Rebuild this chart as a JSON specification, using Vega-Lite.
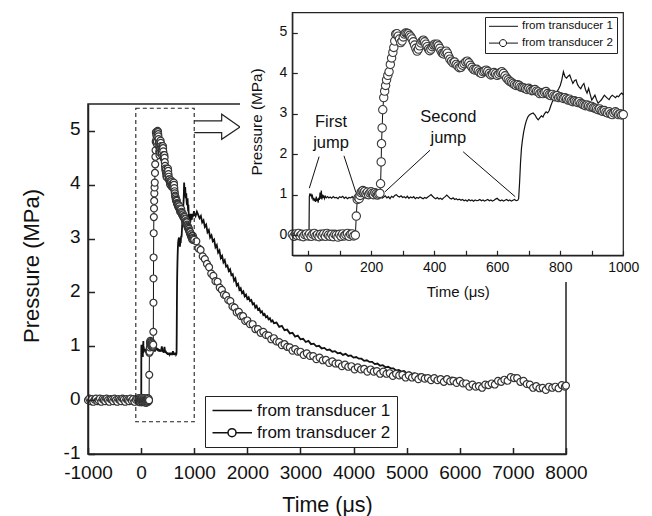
{
"$schema": "https://vega.github.io/schema/vega-lite/v6.json",
"width": 478, "height": 350,
"autosize": {"type": "none"},
"padding": {"left": 88, "top": 104, "right": 86, "bottom": 62},
"background": "white",
"config": {
  "font": "Liberation Sans",
  "view": {"stroke": "#222", "strokeWidth": 1.5},
  "axis": {"grid": false, "labelOverlap": false, "labelFlush": false, "domainColor": "#222", "tickColor": "#222", "labelColor": "#111", "titleColor": "#111", "titleFontWeight": "normal", "labelFont": "Liberation Sans", "titleFont": "Liberation Sans"},
  "legend": {"labelFont": "Liberation Sans", "labelColor": "#111", "labelLimit": 0}
},
"datasets": {
  "one": [{}],
  "leg": [{"s": "from transducer 1"}, {"s": "from transducer 2"}],
  "arrow": [{"ax": 1000, "ay": 5.186, "o": 1}, {"ax": 1517, "ay": 5.186, "o": 2}, {"ax": 1517, "ay": 5.31, "o": 3}, {"ax": 1862, "ay": 5.075, "o": 4}, {"ax": 1517, "ay": 4.845, "o": 5}, {"ax": 1517, "ay": 4.97, "o": 6}, {"ax": 1000, "ay": 4.97, "o": 7}],
  "notes": [{"x1": 35, "y1": 1.94, "x2": 4, "y2": 1.16}, {"x1": 114, "y1": 1.96, "x2": 152, "y2": 1.05}, {"x1": 387, "y1": 2.1, "x2": 244, "y2": 1.07}, {"x1": 492, "y1": 2.06, "x2": 657, "y2": 0.95}],
  "labels": [{"tx": 73, "ty": 2.8, "label": "First\njump"}, {"tx": 445, "ty": 2.93, "label": "Second\njump"}],
  "tr1": [
{"t":-1000,"p":0.01},{"t":-950,"p":-0.02},{"t":-900,"p":0.02},{"t":-850,"p":-0.01},{"t":-800,"p":0.01},{"t":-750,"p":-0.02},{"t":-700,"p":0.02},{"t":-650,"p":0.0},{"t":-600,"p":-0.02},{"t":-550,"p":0.02},{"t":-500,"p":0.0},{"t":-450,"p":-0.01},{"t":-400,"p":0.02},{"t":-350,"p":-0.02},{"t":-300,"p":0.01},{"t":-250,"p":-0.01},{"t":-200,"p":0.02},{"t":-150,"p":-0.02},{"t":-100,"p":0.01},{"t":-50,"p":0.0},{"t":-40,"p":0.02},{"t":-30,"p":-0.01},{"t":-20,"p":0.01},{"t":-10,"p":-0.02},{"t":0,"p":0.0},{"t":3,"p":0.02},
{"t":4,"p":0.95},{"t":6,"p":1.03},{"t":8,"p":0.98},{"t":10,"p":1.0},{"t":12,"p":0.93},{"t":14,"p":0.97},{"t":16,"p":0.86},{"t":18,"p":0.92},{"t":20,"p":0.84},{"t":22,"p":0.9},{"t":24,"p":0.82},{"t":26,"p":0.95},{"t":28,"p":0.85},{"t":30,"p":0.9},{"t":32,"p":0.8},{"t":34,"p":0.93},{"t":36,"p":0.87},{"t":38,"p":1.05},{"t":40,"p":0.9},{"t":42,"p":1.1},{"t":44,"p":0.88},{"t":46,"p":1.0},{"t":48,"p":0.92},{"t":50,"p":0.98},{"t":52,"p":0.9},{"t":55,"p":0.96},{"t":58,"p":0.92},{"t":62,"p":0.95},{"t":66,"p":0.92},{"t":70,"p":0.94},{"t":75,"p":0.91},{"t":80,"p":0.95},{"t":85,"p":0.92},{"t":90,"p":0.93},{"t":95,"p":0.9},{"t":100,"p":0.95},{"t":105,"p":0.93},{"t":110,"p":0.96},{"t":115,"p":0.91},{"t":120,"p":0.94},{"t":125,"p":0.9},{"t":130,"p":0.93},{"t":135,"p":0.92},{"t":140,"p":0.95},{"t":145,"p":0.9},{"t":150,"p":0.93},{"t":155,"p":0.88},{"t":160,"p":0.91},{"t":165,"p":0.87},{"t":170,"p":0.92},{"t":175,"p":0.89},{"t":180,"p":0.94},{"t":185,"p":0.91},{"t":190,"p":0.96},{"t":195,"p":0.92},{"t":200,"p":0.95},{"t":205,"p":0.91},{"t":210,"p":0.96},{"t":215,"p":0.93},{"t":220,"p":0.97},{"t":225,"p":0.92},{"t":230,"p":0.95},{"t":235,"p":0.91},{"t":240,"p":0.94},{"t":245,"p":0.97},{"t":250,"p":0.92},{"t":255,"p":0.95},{"t":260,"p":0.9},{"t":265,"p":0.96},{"t":270,"p":0.93},{"t":275,"p":0.98},{"t":280,"p":1.0},{"t":285,"p":0.96},{"t":290,"p":0.94},{"t":295,"p":0.97},{"t":300,"p":0.93},{"t":305,"p":0.95},{"t":310,"p":0.92},{"t":315,"p":0.96},{"t":320,"p":0.91},{"t":325,"p":0.94},{"t":330,"p":0.92},{"t":335,"p":0.95},{"t":340,"p":0.9},{"t":345,"p":0.93},{"t":350,"p":0.91},{"t":355,"p":0.94},{"t":360,"p":0.92},{"t":365,"p":0.9},{"t":370,"p":0.93},{"t":375,"p":0.91},{"t":380,"p":0.94},{"t":385,"p":0.97},{"t":390,"p":1.0},{"t":395,"p":0.96},{"t":400,"p":0.92},{"t":405,"p":0.9},{"t":410,"p":0.93},{"t":415,"p":0.89},{"t":420,"p":0.91},{"t":425,"p":0.88},{"t":430,"p":0.92},{"t":435,"p":0.95},{"t":440,"p":0.99},{"t":445,"p":0.95},{"t":450,"p":0.91},{"t":455,"p":0.89},{"t":460,"p":0.92},{"t":465,"p":0.88},{"t":470,"p":0.9},{"t":475,"p":0.87},{"t":480,"p":0.89},{"t":485,"p":0.86},{"t":490,"p":0.88},{"t":495,"p":0.85},{"t":500,"p":0.87},{"t":505,"p":0.84},{"t":510,"p":0.88},{"t":515,"p":0.85},{"t":520,"p":0.87},{"t":525,"p":0.84},{"t":530,"p":0.87},{"t":535,"p":0.85},{"t":540,"p":0.86},{"t":545,"p":0.88},{"t":550,"p":0.85},{"t":555,"p":0.87},{"t":560,"p":0.84},{"t":565,"p":0.86},{"t":570,"p":0.88},{"t":575,"p":0.85},{"t":580,"p":0.87},{"t":585,"p":0.84},{"t":590,"p":0.86},{"t":595,"p":0.89},{"t":600,"p":0.91},{"t":605,"p":0.87},{"t":610,"p":0.85},{"t":615,"p":0.87},{"t":620,"p":0.84},{"t":625,"p":0.86},{"t":630,"p":0.88},{"t":635,"p":0.85},{"t":640,"p":0.87},{"t":645,"p":0.84},{"t":650,"p":0.86},{"t":655,"p":0.88},{"t":660,"p":0.85},{"t":665,"p":0.86},{"t":668,"p":0.9},{"t":671,"p":1.3},{"t":674,"p":1.8},{"t":677,"p":2.15},{"t":680,"p":2.35},{"t":684,"p":2.55},{"t":688,"p":2.7},{"t":692,"p":2.82},{"t":697,"p":2.92},{"t":702,"p":2.97},{"t":708,"p":3.0},{"t":714,"p":3.02},{"t":720,"p":2.97},{"t":725,"p":2.9},{"t":730,"p":2.85},{"t":735,"p":2.9},{"t":740,"p":2.95},{"t":745,"p":2.92},{"t":750,"p":3.0},{"t":755,"p":3.05},{"t":760,"p":3.02},{"t":765,"p":3.08},{"t":770,"p":3.2},{"t":775,"p":3.3},{"t":780,"p":3.38},{"t":785,"p":3.45},{"t":790,"p":3.55},{"t":795,"p":3.62},{"t":800,"p":3.7},{"t":805,"p":3.84},{"t":810,"p":4.04},{"t":815,"p":3.92},{"t":820,"p":3.88},{"t":825,"p":3.93},{"t":830,"p":3.96},{"t":835,"p":3.85},{"t":840,"p":3.75},{"t":845,"p":3.82},{"t":850,"p":3.84},{"t":855,"p":3.72},{"t":860,"p":3.66},{"t":865,"p":3.62},{"t":870,"p":3.7},{"t":875,"p":3.75},{"t":880,"p":3.6},{"t":885,"p":3.51},{"t":890,"p":3.63},{"t":895,"p":3.48},{"t":900,"p":3.34},{"t":905,"p":3.4},{"t":910,"p":3.46},{"t":915,"p":3.35},{"t":920,"p":3.26},{"t":925,"p":3.3},{"t":930,"p":3.34},{"t":935,"p":3.4},{"t":940,"p":3.46},{"t":945,"p":3.42},{"t":950,"p":3.38},{"t":955,"p":3.35},{"t":960,"p":3.42},{"t":965,"p":3.46},{"t":970,"p":3.43},{"t":975,"p":3.4},{"t":980,"p":3.44},{"t":985,"p":3.42},{"t":990,"p":3.48},{"t":995,"p":3.51},{"t":1000,"p":3.47},
{"t":1025,"p":3.42},{"t":1050,"p":3.5},{"t":1075,"p":3.44},{"t":1100,"p":3.38},{"t":1125,"p":3.42},{"t":1150,"p":3.3},{"t":1175,"p":3.34},{"t":1200,"p":3.22},{"t":1225,"p":3.26},{"t":1250,"p":3.12},{"t":1275,"p":3.16},{"t":1300,"p":3.02},{"t":1325,"p":3.06},{"t":1350,"p":2.95},{"t":1375,"p":2.98},{"t":1400,"p":2.84},{"t":1425,"p":2.88},{"t":1450,"p":2.74},{"t":1475,"p":2.78},{"t":1500,"p":2.64},{"t":1525,"p":2.68},{"t":1550,"p":2.56},{"t":1575,"p":2.6},{"t":1600,"p":2.48},{"t":1625,"p":2.5},{"t":1650,"p":2.4},{"t":1675,"p":2.43},{"t":1700,"p":2.32},{"t":1725,"p":2.34},{"t":1750,"p":2.22},{"t":1775,"p":2.26},{"t":1800,"p":2.13},{"t":1825,"p":2.16},{"t":1850,"p":2.05},{"t":1875,"p":2.08},{"t":1900,"p":1.99},{"t":1925,"p":2.02},{"t":1950,"p":1.93},{"t":1975,"p":1.96},{"t":2000,"p":1.88},{"t":2025,"p":1.91},{"t":2050,"p":1.84},{"t":2075,"p":1.86},{"t":2100,"p":1.78},{"t":2125,"p":1.8},{"t":2150,"p":1.72},{"t":2175,"p":1.75},{"t":2200,"p":1.68},{"t":2225,"p":1.7},{"t":2250,"p":1.63},{"t":2275,"p":1.65},{"t":2300,"p":1.58},{"t":2325,"p":1.6},{"t":2350,"p":1.54},{"t":2375,"p":1.56},{"t":2400,"p":1.5},{"t":2425,"p":1.52},{"t":2450,"p":1.46},{"t":2475,"p":1.48},{"t":2500,"p":1.43},{"t":2550,"p":1.44},{"t":2600,"p":1.36},{"t":2650,"p":1.38},{"t":2700,"p":1.3},{"t":2750,"p":1.31},{"t":2800,"p":1.24},{"t":2850,"p":1.25},{"t":2900,"p":1.18},{"t":2950,"p":1.2},{"t":3000,"p":1.13},{"t":3050,"p":1.14},{"t":3100,"p":1.08},{"t":3150,"p":1.1},{"t":3200,"p":1.04},{"t":3250,"p":1.05},{"t":3300,"p":1.0},{"t":3350,"p":1.01},{"t":3400,"p":0.96},{"t":3450,"p":0.97},{"t":3500,"p":0.93},{"t":3550,"p":0.94},{"t":3600,"p":0.9},{"t":3650,"p":0.91},{"t":3700,"p":0.87},{"t":3750,"p":0.88},
{"t":3800,"p":0.84},{"t":3850,"p":0.86},{"t":3900,"p":0.82},{"t":3950,"p":0.83},{"t":4000,"p":0.79},{"t":4050,"p":0.8},{"t":4100,"p":0.77},{"t":4150,"p":0.77},{"t":4200,"p":0.73},{"t":4250,"p":0.74},{"t":4300,"p":0.71},{"t":4350,"p":0.71},{"t":4400,"p":0.67},{"t":4450,"p":0.68},{"t":4500,"p":0.64},{"t":4550,"p":0.65},{"t":4600,"p":0.61},{"t":4650,"p":0.62},{"t":4700,"p":0.59},{"t":4750,"p":0.59},{"t":4800,"p":0.55},{"t":4850,"p":0.56},{"t":4900,"p":0.53},{"t":4950,"p":0.54},{"t":5000,"p":0.5},{"t":5050,"p":0.52},{"t":5100,"p":0.49},{"t":5150,"p":0.5},{"t":5200,"p":0.47},{"t":5250,"p":0.48},{"t":5300,"p":0.46},{"t":5350,"p":0.46},{"t":5400,"p":0.44},{"t":5450,"p":0.45},{"t":5500,"p":0.43},{"t":5550,"p":0.44},{"t":5600,"p":0.41},{"t":5650,"p":0.43},{"t":5700,"p":0.42},{"t":5750,"p":0.42},{"t":5800,"p":0.4},{"t":5850,"p":0.42},{"t":5900,"p":0.41},{"t":5950,"p":0.4},{"t":6000,"p":0.37},{"t":6050,"p":0.38},{"t":6100,"p":0.35},{"t":6150,"p":0.34},{"t":6200,"p":0.31},{"t":6250,"p":0.31},{"t":6300,"p":0.28},{"t":6350,"p":0.29},{"t":6400,"p":0.26},{"t":6450,"p":0.28},{"t":6500,"p":0.28},{"t":6550,"p":0.3},{"t":6600,"p":0.3},{"t":6650,"p":0.33},{"t":6700,"p":0.34},{"t":6750,"p":0.36},{"t":6800,"p":0.36},{"t":6850,"p":0.39},{"t":6900,"p":0.4},{"t":6950,"p":0.44},{"t":7000,"p":0.46},{"t":7050,"p":0.43},{"t":7100,"p":0.42},{"t":7150,"p":0.39},{"t":7200,"p":0.36},{"t":7250,"p":0.34},{"t":7300,"p":0.31},{"t":7350,"p":0.3},{"t":7400,"p":0.27},{"t":7450,"p":0.27},{"t":7500,"p":0.24},{"t":7550,"p":0.25},{"t":7600,"p":0.23},{"t":7650,"p":0.25},{"t":7700,"p":0.24},{"t":7750,"p":0.26},{"t":7800,"p":0.24},{"t":7850,"p":0.26},{"t":7900,"p":0.25},{"t":7950,"p":0.27},{"t":8000,"p":0.26}
  ],
  "tr2": [
{"t":-1000,"p":0.0},{"t":-975,"p":0.03},{"t":-950,"p":-0.02},{"t":-925,"p":0.02},{"t":-900,"p":-0.03},{"t":-875,"p":0.01},{"t":-850,"p":0.03},{"t":-825,"p":-0.02},{"t":-800,"p":0.0},{"t":-775,"p":0.03},{"t":-750,"p":-0.03},{"t":-725,"p":0.02},{"t":-700,"p":0.0},{"t":-675,"p":-0.02},{"t":-650,"p":0.03},{"t":-625,"p":0.0},{"t":-600,"p":-0.03},{"t":-575,"p":0.02},{"t":-550,"p":0.01},{"t":-525,"p":-0.02},{"t":-500,"p":0.03},{"t":-475,"p":0.0},{"t":-450,"p":-0.03},{"t":-425,"p":0.02},{"t":-400,"p":0.0},{"t":-375,"p":-0.02},{"t":-350,"p":0.03},{"t":-325,"p":0.01},{"t":-300,"p":-0.03},{"t":-275,"p":0.02},{"t":-250,"p":0.0},{"t":-225,"p":-0.02},{"t":-200,"p":0.03},{"t":-175,"p":-0.01},{"t":-150,"p":0.02},{"t":-125,"p":-0.03},{"t":-100,"p":0.01},{"t":-75,"p":0.03},
{"t":-50,"p":0.02},{"t":-45,"p":-0.03},{"t":-40,"p":0.03},{"t":-35,"p":-0.01},{"t":-30,"p":0.04},{"t":-25,"p":-0.02},{"t":-20,"p":0.02},{"t":-15,"p":-0.04},{"t":-10,"p":0.01},{"t":-5,"p":0.03},{"t":0,"p":-0.02},{"t":5,"p":0.03},{"t":10,"p":-0.03},{"t":15,"p":0.02},{"t":20,"p":0.04},{"t":25,"p":-0.02},{"t":30,"p":0.01},{"t":35,"p":-0.04},{"t":40,"p":0.02},{"t":45,"p":-0.02},{"t":50,"p":0.03},{"t":55,"p":-0.03},{"t":60,"p":0.04},{"t":65,"p":0.0},{"t":70,"p":-0.03},{"t":75,"p":0.02},{"t":80,"p":-0.04},{"t":85,"p":0.02},{"t":90,"p":0.0},{"t":95,"p":-0.05},{"t":100,"p":0.02},{"t":105,"p":-0.03},{"t":110,"p":0.03},{"t":115,"p":-0.02},{"t":120,"p":0.01},{"t":125,"p":0.04},{"t":130,"p":-0.03},{"t":135,"p":0.02},{"t":140,"p":0.03},{"t":145,"p":-0.02},{"t":150,"p":0.0},
{"t":153,"p":0.47},{"t":156,"p":0.88},{"t":159,"p":0.93},{"t":162,"p":0.9},{"t":165,"p":0.98},{"t":168,"p":1.05},{"t":171,"p":1.08},{"t":174,"p":1.1},{"t":177,"p":1.05},{"t":180,"p":1.08},{"t":184,"p":1.02},{"t":188,"p":1.06},{"t":192,"p":1.0},{"t":196,"p":1.04},{"t":200,"p":1.07},{"t":204,"p":1.03},{"t":208,"p":1.0},{"t":212,"p":1.05},{"t":216,"p":1.02},{"t":220,"p":0.99},{"t":224,"p":1.01},{"t":228,"p":1.03},{"t":230,"p":1.27},{"t":232,"p":1.81},{"t":233,"p":2.26},{"t":235,"p":2.65},{"t":237,"p":3.1},{"t":240,"p":3.4},{"t":243,"p":3.56},{"t":246,"p":3.7},{"t":249,"p":3.84},{"t":253,"p":3.95},{"t":257,"p":4.04},{"t":261,"p":4.22},{"t":265,"p":4.38},{"t":269,"p":4.52},{"t":272,"p":4.64},{"t":275,"p":4.8},{"t":278,"p":4.97},{"t":282,"p":4.98},{"t":286,"p":4.92},{"t":290,"p":4.85},{"t":294,"p":4.76},{"t":298,"p":4.8},{"t":302,"p":4.9},{"t":306,"p":4.97},{"t":310,"p":5.0},{"t":314,"p":4.99},{"t":318,"p":4.98},{"t":322,"p":4.94},{"t":326,"p":4.9},{"t":330,"p":4.85},{"t":334,"p":4.78},{"t":338,"p":4.7},{"t":342,"p":4.62},{"t":346,"p":4.55},{"t":350,"p":4.6},{"t":354,"p":4.68},{"t":358,"p":4.75},{"t":362,"p":4.8},{"t":366,"p":4.82},{"t":370,"p":4.78},{"t":374,"p":4.72},{"t":378,"p":4.66},{"t":382,"p":4.6},{"t":386,"p":4.56},{"t":390,"p":4.6},{"t":394,"p":4.66},{"t":398,"p":4.7},{"t":402,"p":4.72},{"t":406,"p":4.7},{"t":410,"p":4.72},{"t":414,"p":4.68},{"t":418,"p":4.62},{"t":422,"p":4.55},{"t":426,"p":4.5},{"t":430,"p":4.48},{"t":434,"p":4.52},{"t":438,"p":4.55},{"t":442,"p":4.5},{"t":446,"p":4.42},{"t":450,"p":4.35},{"t":455,"p":4.3},{"t":460,"p":4.26},{"t":465,"p":4.28},{"t":470,"p":4.22},{"t":475,"p":4.18},{"t":480,"p":4.14},{"t":485,"p":4.15},{"t":490,"p":4.2},{"t":495,"p":4.24},{"t":500,"p":4.28},{"t":505,"p":4.3},{"t":510,"p":4.26},{"t":515,"p":4.2},{"t":520,"p":4.15},{"t":525,"p":4.1},{"t":530,"p":4.08},{"t":535,"p":4.1},{"t":540,"p":4.06},{"t":545,"p":4.02},{"t":550,"p":4.0},{"t":555,"p":4.04},{"t":560,"p":4.06},{"t":565,"p":4.08},{"t":570,"p":4.05},{"t":575,"p":4.0},{"t":580,"p":3.96},{"t":585,"p":3.98},{"t":590,"p":4.02},{"t":595,"p":3.99},{"t":600,"p":3.95},{"t":605,"p":3.98},{"t":610,"p":4.02},{"t":615,"p":4.04},{"t":620,"p":4.0},{"t":625,"p":3.94},{"t":630,"p":3.88},{"t":635,"p":3.84},{"t":640,"p":3.8},{"t":645,"p":3.78},{"t":650,"p":3.75},{"t":655,"p":3.72},{"t":660,"p":3.7},{"t":665,"p":3.72},{"t":670,"p":3.7},{"t":675,"p":3.66},{"t":680,"p":3.65},{"t":685,"p":3.64},{"t":690,"p":3.62},{"t":695,"p":3.6},{"t":700,"p":3.63},{"t":705,"p":3.6},{"t":710,"p":3.57},{"t":715,"p":3.58},{"t":720,"p":3.6},{"t":725,"p":3.56},{"t":730,"p":3.54},{"t":735,"p":3.5},{"t":740,"p":3.52},{"t":745,"p":3.5},{"t":750,"p":3.53},{"t":755,"p":3.55},{"t":760,"p":3.5},{"t":765,"p":3.47},{"t":770,"p":3.45},{"t":775,"p":3.48},{"t":780,"p":3.44},{"t":785,"p":3.42},{"t":790,"p":3.45},{"t":795,"p":3.4},{"t":800,"p":3.42},{"t":805,"p":3.4},{"t":810,"p":3.38},{"t":815,"p":3.4},{"t":820,"p":3.37},{"t":825,"p":3.34},{"t":830,"p":3.36},{"t":835,"p":3.32},{"t":840,"p":3.3},{"t":845,"p":3.32},{"t":850,"p":3.3},{"t":855,"p":3.28},{"t":860,"p":3.3},{"t":865,"p":3.26},{"t":870,"p":3.24},{"t":875,"p":3.22},{"t":880,"p":3.2},{"t":885,"p":3.22},{"t":890,"p":3.2},{"t":895,"p":3.17},{"t":900,"p":3.18},{"t":905,"p":3.15},{"t":910,"p":3.14},{"t":915,"p":3.12},{"t":920,"p":3.1},{"t":925,"p":3.12},{"t":930,"p":3.08},{"t":935,"p":3.06},{"t":940,"p":3.08},{"t":945,"p":3.04},{"t":950,"p":3.02},{"t":955,"p":3.05},{"t":960,"p":3.0},{"t":965,"p":2.98},{"t":970,"p":3.02},{"t":975,"p":3.05},{"t":980,"p":3.02},{"t":985,"p":2.98},{"t":990,"p":3.0},{"t":995,"p":2.97},{"t":1000,"p":2.98},
{"t":1040,"p":2.95},{"t":1080,"p":2.82},{"t":1120,"p":2.79},{"t":1160,"p":2.67},{"t":1200,"p":2.62},{"t":1240,"p":2.53},{"t":1280,"p":2.47},{"t":1320,"p":2.35},{"t":1360,"p":2.31},{"t":1400,"p":2.21},{"t":1440,"p":2.2},{"t":1480,"p":2.09},{"t":1520,"p":2.05},{"t":1560,"p":1.96},{"t":1600,"p":1.94},{"t":1640,"p":1.86},{"t":1680,"p":1.84},{"t":1720,"p":1.74},{"t":1760,"p":1.72},{"t":1800,"p":1.63},{"t":1840,"p":1.64},{"t":1880,"p":1.56},{"t":1920,"p":1.56},{"t":1960,"p":1.47},{"t":2000,"p":1.48},{"t":2050,"p":1.41},{"t":2100,"p":1.41},{"t":2150,"p":1.32},{"t":2200,"p":1.32},{"t":2250,"p":1.25},{"t":2300,"p":1.27},{"t":2350,"p":1.21},{"t":2400,"p":1.2},{"t":2450,"p":1.13},{"t":2500,"p":1.15},{"t":2550,"p":1.09},{"t":2600,"p":1.08},{"t":2650,"p":1.02},{"t":2700,"p":1.04},{"t":2750,"p":0.99},{"t":2800,"p":0.98},{"t":2850,"p":0.92},{"t":2900,"p":0.95},{"t":2950,"p":0.9},{"t":3000,"p":0.9},{"t":3060,"p":0.84},{"t":3120,"p":0.87},{"t":3180,"p":0.82},{"t":3240,"p":0.82},{"t":3300,"p":0.76},{"t":3360,"p":0.79},{"t":3420,"p":0.74},{"t":3480,"p":0.75},{"t":3540,"p":0.69},{"t":3600,"p":0.72},{"t":3660,"p":0.68},{"t":3720,"p":0.68},{"t":3780,"p":0.63},{"t":3840,"p":0.66},{"t":3900,"p":0.62},{"t":3960,"p":0.63},{"t":4020,"p":0.57},{"t":4080,"p":0.61},{"t":4140,"p":0.57},{"t":4200,"p":0.58},{"t":4260,"p":0.53},{"t":4320,"p":0.57},{"t":4380,"p":0.53},{"t":4440,"p":0.54},{"t":4500,"p":0.49},{"t":4560,"p":0.53},{"t":4620,"p":0.49},{"t":4680,"p":0.5},{"t":4740,"p":0.45},{"t":4800,"p":0.49},{"t":4860,"p":0.46},{"t":4920,"p":0.47},{"t":4980,"p":0.42},{"t":5040,"p":0.46},{"t":5100,"p":0.42},{"t":5160,"p":0.44},{"t":5220,"p":0.39},{"t":5280,"p":0.43},{"t":5340,"p":0.4},{"t":5400,"p":0.41},{"t":5460,"p":0.37},{"t":5520,"p":0.41},{"t":5580,"p":0.37},{"t":5640,"p":0.39},{"t":5700,"p":0.34},{"t":5760,"p":0.39},{"t":5820,"p":0.35},{"t":5880,"p":0.36},{"t":5940,"p":0.32},{"t":6000,"p":0.36},{"t":6060,"p":0.31},{"t":6120,"p":0.31},{"t":6180,"p":0.25},{"t":6240,"p":0.29},{"t":6300,"p":0.25},{"t":6360,"p":0.26},{"t":6420,"p":0.23},{"t":6480,"p":0.29},{"t":6540,"p":0.28},{"t":6600,"p":0.31},{"t":6660,"p":0.29},{"t":6720,"p":0.36},{"t":6780,"p":0.34},{"t":6840,"p":0.38},{"t":6900,"p":0.36},{"t":6960,"p":0.43},{"t":7020,"p":0.41},{"t":7080,"p":0.41},{"t":7140,"p":0.34},{"t":7200,"p":0.36},{"t":7260,"p":0.3},{"t":7320,"p":0.29},{"t":7380,"p":0.23},{"t":7440,"p":0.26},{"t":7500,"p":0.22},{"t":7560,"p":0.23},{"t":7620,"p":0.19},{"t":7680,"p":0.25},{"t":7740,"p":0.23},{"t":7800,"p":0.25},{"t":7860,"p":0.22},{"t":7920,"p":0.28},{"t":7980,"p":0.25},{"t":8000,"p":0.27}
  ]
},
"layer": [
  {
    "layer": [
      {
        "data": {"name": "tr1"},
        "mark": {"type": "line", "color": "#111", "strokeWidth": 1.8},
        "encoding": {
          "x": {"field": "t", "type": "quantitative",
                "scale": {"domain": [-1000, 8000], "nice": false, "zero": false},
                "axis": {"orient": "bottom", "title": "Time (μs)", "zindex": 1,
                         "values": [-1000,-500,0,500,1000,1500,2000,2500,3000,3500,4000,4500,5000,5500,6000,6500,7000,7500,8000],
                         "labelExpr": "datum.value % 1000 === 0 ? '' + datum.value : ''",
                         "tickSize": -6.5,
                         "encode": {"ticks": {"update": {"y2": {"signal": "datum.value % 1000 === 0 ? -6.5 : -3.5"}}}},
                         "tickWidth": 1.5, "domainWidth": 1.5,
                         "labelFontSize": 19, "labelBaseline": "alphabetic", "labelPadding": 31,
                         "titleFontSize": 21.5, "titleBaseline": "alphabetic", "titleY": 57}},
          "y": {"field": "p", "type": "quantitative",
                "scale": {"domain": [-1, 5.5], "nice": false, "zero": false},
                "axis": {"orient": "left", "title": "Pressure (MPa)", "zindex": 1,
                         "values": [-1,-0.5,0,0.5,1,1.5,2,2.5,3,3.5,4,4.5,5],
                         "labelExpr": "datum.value % 1 === 0 ? '' + datum.value : ''",
                         "tickSize": -6.5,
                         "encode": {"ticks": {"update": {"x2": {"signal": "datum.value % 1 === 0 ? 6.5 : 3.5"}}}},
                         "tickWidth": 1.5, "domainWidth": 1.5,
                         "labelFontSize": 19, "labelAlign": "right", "labelBaseline": "middle", "labelPadding": 14.5, "labelOffset": -2,
                         "titleFontSize": 22, "titleBaseline": "alphabetic", "titleX": -49.5, "titleY": 161.5}}
        }
      },
      {
        "data": {"name": "tr2"},
        "mark": {"type": "line", "color": "#111", "strokeWidth": 1},
        "encoding": {
          "x": {"field": "t", "type": "quantitative"},
          "y": {"field": "p", "type": "quantitative"}
        }
      },
      {
        "data": {"name": "tr2"},
        "mark": {"type": "point", "shape": "circle", "filled": true, "fill": "white", "stroke": "#333", "strokeWidth": 1.2, "size": 48, "opacity": 1},
        "encoding": {
          "x": {"field": "t", "type": "quantitative"},
          "y": {"field": "p", "type": "quantitative"}
        }
      },
      {
        "data": {"name": "one"},
        "mark": {"type": "rect", "fill": "transparent", "stroke": "#222", "strokeWidth": 1.1, "strokeDash": [4, 3]},
        "encoding": {
          "x": {"datum": -100, "type": "quantitative"},
          "x2": {"datum": 1000},
          "y": {"datum": -0.4, "type": "quantitative"},
          "y2": {"datum": 5.42}
        }
      },
      {
        "data": {"name": "arrow"},
        "mark": {"type": "line", "color": "#222", "strokeWidth": 1.2},
        "encoding": {
          "x": {"field": "ax", "type": "quantitative"},
          "y": {"field": "ay", "type": "quantitative"},
          "order": {"field": "o"}
        }
      },
      {
        "data": {"name": "leg"},
        "mark": {"type": "point", "opacity": 0, "color": "#111"},
        "encoding": {
          "shape": {"field": "s", "type": "nominal",
                    "scale": {"domain": ["from transducer 1", "from transducer 2"],
                              "range": ["M-1.75,0L8.125,0", "M-1.75,0L2.125,0M4.125,0L8.125,0M4.125,0A1,1 0 1 1 2.125,0A1,1 0 1 1 4.125,0"]},
                    "legend": {"orient": "none", "legendX": 117, "legendY": 292, "title": null, "padding": 6,
                               "strokeColor": "#222", "fillColor": "white", "labelFontSize": 17, "labelOffset": 29,
                               "rowPadding": 4.2, "symbolSize": 64, "symbolStrokeWidth": 1.5, "symbolStrokeColor": "#111", "symbolOpacity": 1}}
        }
      }
    ]
  },
  {
    "layer": [
      {
        "data": {"name": "one"},
        "mark": {"type": "rect", "fill": "white", "strokeWidth": 0},
        "encoding": {
          "x": {"datum": -216, "type": "quantitative"},
          "x2": {"datum": 1091},
          "y": {"datum": -1.16, "type": "quantitative"},
          "y2": {"datum": 5.81}
        }
      },
      {
        "data": {"name": "one"},
        "mark": {"type": "rect", "fill": "transparent", "stroke": "#222", "strokeWidth": 1.2},
        "encoding": {
          "x": {"datum": -50, "type": "quantitative"},
          "x2": {"datum": 1000},
          "y": {"datum": -0.5, "type": "quantitative"},
          "y2": {"datum": 5.5}
        }
      },
      {
        "data": {"name": "tr1"},
        "transform": [{"filter": "datum.t >= -50 && datum.t <= 1000"}],
        "mark": {"type": "line", "color": "#111", "strokeWidth": 1.2},
        "encoding": {
          "x": {"field": "t", "type": "quantitative",
                "scale": {"domain": [-50, 1000], "range": [204.3, 535.3], "nice": false, "zero": false},
                "axis": {"orient": "bottom", "offset": -198.7, "title": "Time (μs)", "zindex": 1,
                         "values": [0,100,200,300,400,500,600,700,800,900,1000],
                         "labelExpr": "datum.value % 200 === 0 ? '' + datum.value : ''",
                         "tickSize": -5,
                         "encode": {"ticks": {"update": {"y2": {"signal": "datum.value % 200 === 0 ? -5 : -3"}}}},
                         "tickWidth": 1.2, "domainWidth": 1.2,
                         "labelFontSize": 14, "labelBaseline": "alphabetic", "labelPadding": 21.4,
                         "titleFontSize": 15, "titleBaseline": "alphabetic", "titleY": 41.4}},
          "y": {"field": "p", "type": "quantitative",
                "scale": {"domain": [-0.5, 5.5], "range": [151.3, -91.3], "nice": false, "zero": false},
                "axis": {"orient": "left", "offset": -204.3, "title": "Pressure (MPa)", "zindex": 1,
                         "values": [0,0.5,1,1.5,2,2.5,3,3.5,4,4.5,5],
                         "labelExpr": "datum.value % 1 === 0 ? '' + datum.value : ''",
                         "tickSize": -5,
                         "encode": {"ticks": {"update": {"x2": {"signal": "datum.value % 1 === 0 ? 5 : 3"}}}},
                         "tickWidth": 1.2, "domainWidth": 1.2,
                         "labelFontSize": 14, "labelAlign": "right", "labelBaseline": "middle", "labelPadding": 10.6, "labelOffset": -1,
                         "titleFontSize": 15.3, "titleBaseline": "alphabetic", "titleX": -31, "titleY": 17.5}}
        }
      },
      {
        "data": {"name": "tr2"},
        "transform": [{"filter": "datum.t >= -50 && datum.t <= 1000"}],
        "mark": {"type": "line", "color": "#111", "strokeWidth": 1},
        "encoding": {
          "x": {"field": "t", "type": "quantitative"},
          "y": {"field": "p", "type": "quantitative"}
        }
      },
      {
        "data": {"name": "tr2"},
        "transform": [{"filter": "datum.t >= -50 && datum.t <= 1000"}],
        "mark": {"type": "point", "shape": "circle", "filled": true, "fill": "white", "stroke": "#3a3a3a", "strokeWidth": 1.1, "size": 70, "opacity": 1},
        "encoding": {
          "x": {"field": "t", "type": "quantitative"},
          "y": {"field": "p", "type": "quantitative"}
        }
      },
      {
        "data": {"name": "notes"},
        "mark": {"type": "rule", "color": "#111", "strokeWidth": 1},
        "encoding": {
          "x": {"field": "x1", "type": "quantitative"},
          "y": {"field": "y1", "type": "quantitative"},
          "x2": {"field": "x2"},
          "y2": {"field": "y2"}
        }
      },
      {
        "data": {"name": "labels"},
        "mark": {"type": "text", "fontSize": 16.5, "color": "#111", "align": "center", "baseline": "middle", "lineBreak": "\n", "lineHeight": 21},
        "encoding": {
          "x": {"field": "tx", "type": "quantitative"},
          "y": {"field": "ty", "type": "quantitative"},
          "text": {"field": "label"}
        }
      },
      {
        "data": {"name": "leg"},
        "mark": {"type": "point", "opacity": 0, "color": "#111"},
        "encoding": {
          "shape": {"field": "s", "type": "nominal",
                    "scale": {"domain": ["from transducer 1", "from transducer 2"],
                              "range": ["M-1.51,0L6.77,0", "M-1.51,0L1.49,0M3.49,0L6.77,0M3.49,0A1,1 0 1 1 1.49,0A1,1 0 1 1 3.49,0"]},
                    "legend": {"orient": "none", "legendX": 397, "legendY": -87, "title": null, "padding": 3.5,
                               "strokeColor": "#222", "fillColor": "white", "labelFontSize": 11.6, "labelOffset": 21.9,
                               "rowPadding": 3.8, "symbolSize": 49, "symbolStrokeWidth": 1, "symbolStrokeColor": "#111", "symbolOpacity": 1}}
        }
      }
    ]
  }
],
"resolve": {
  "scale": {"x": "independent", "y": "independent", "shape": "independent"},
  "axis": {"x": "independent", "y": "independent"},
  "legend": {"shape": "independent"}
}
}
